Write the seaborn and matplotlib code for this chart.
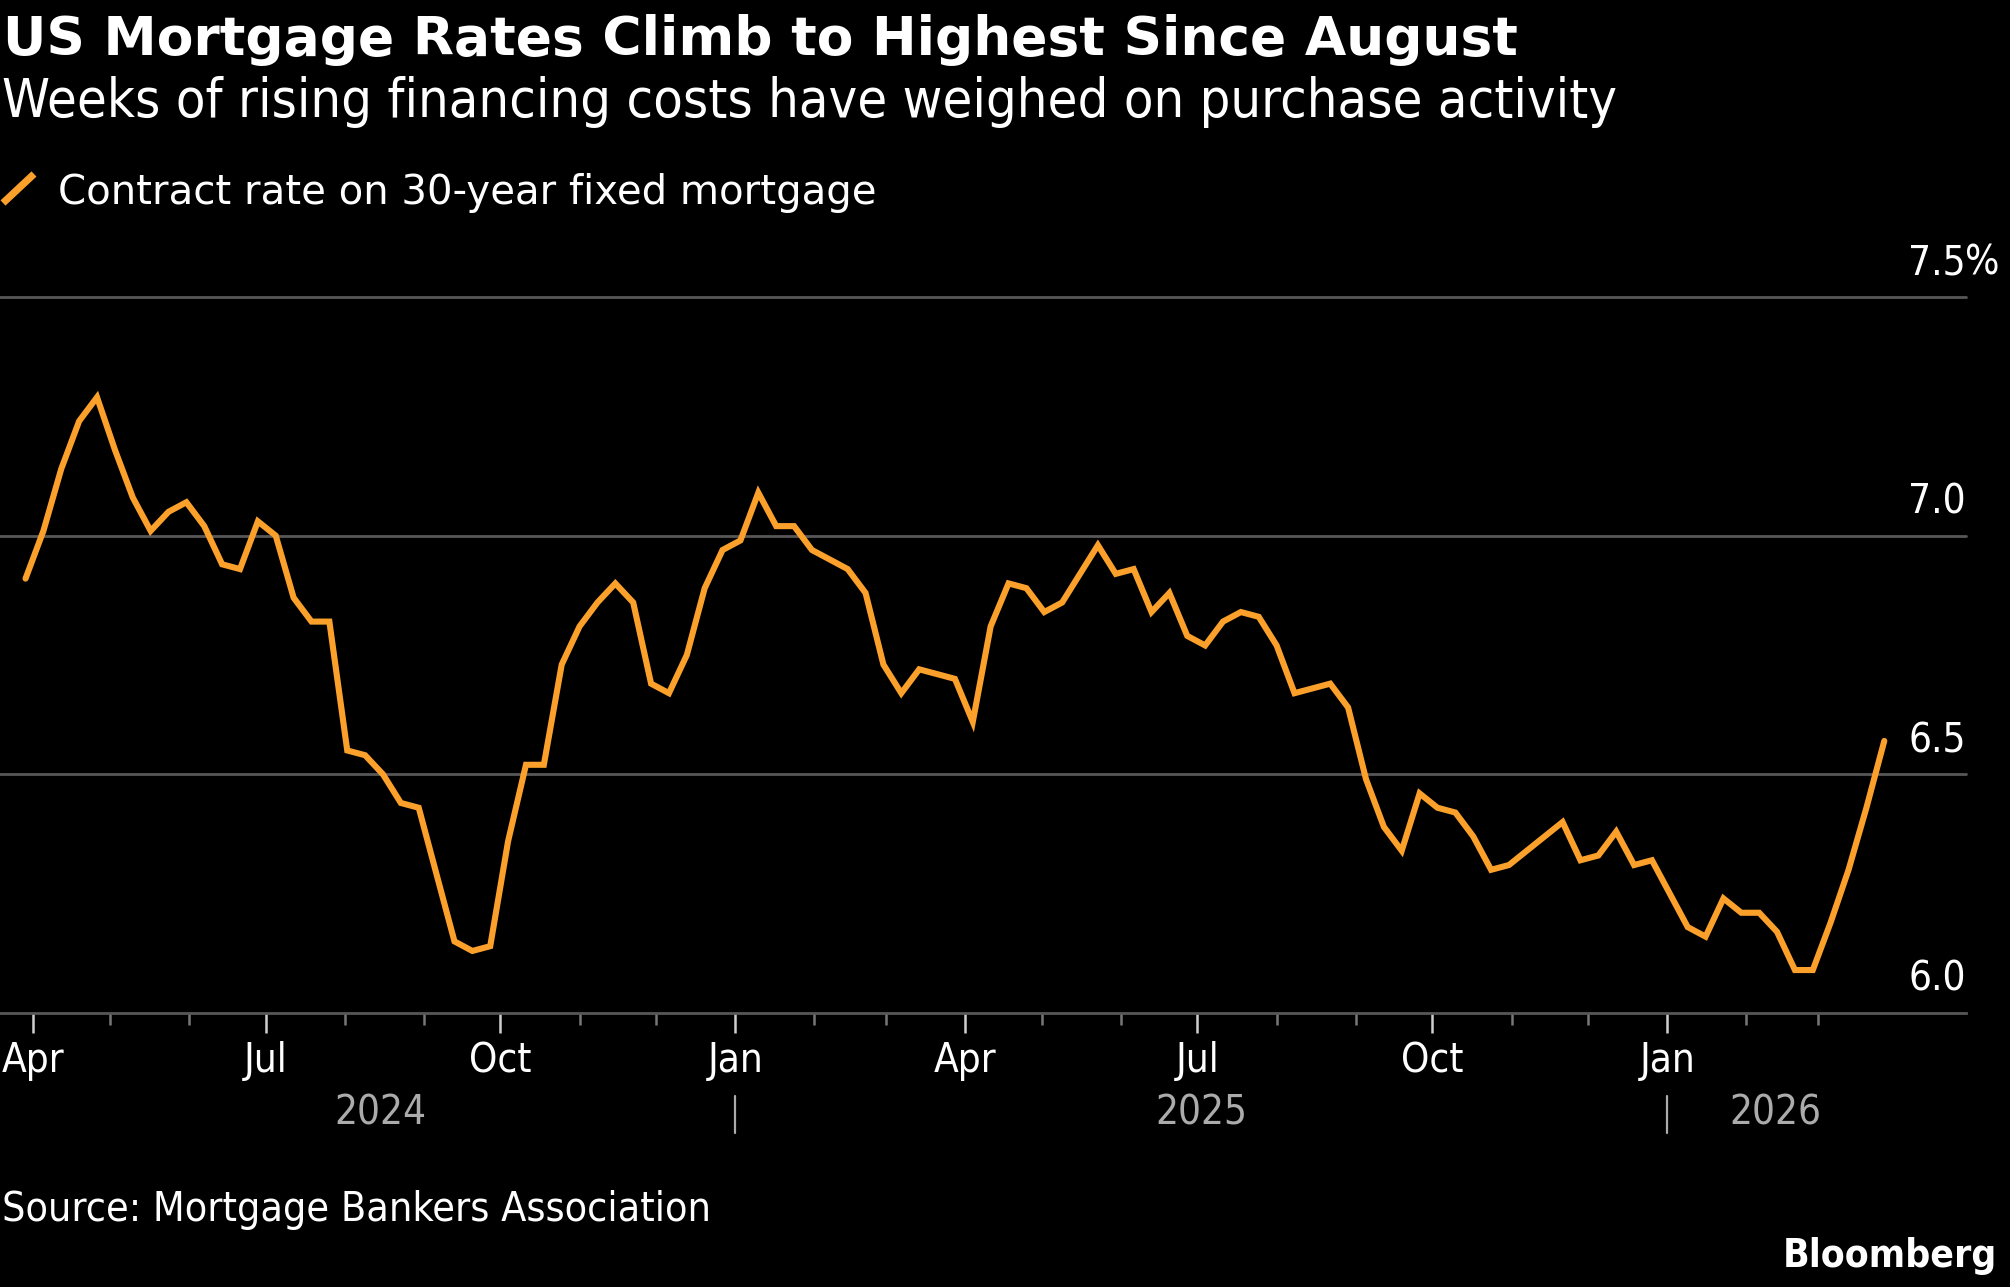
import pandas as pd
import matplotlib
matplotlib.use("Agg")
import matplotlib.pyplot as plt
import matplotlib.dates as mdates
import matplotlib.ticker as mticker
import matplotlib.transforms as mtrans
from matplotlib.lines import Line2D
import seaborn as sns

# MBA weekly contract rate on 30-year fixed mortgage (%)
first_week = "2024-03-29"
rates = [
    6.91, 7.01, 7.14, 7.24, 7.29, 7.18, 7.08, 7.01, 7.05, 7.07,
    7.02, 6.94, 6.93, 7.03, 7.00, 6.87, 6.82, 6.82, 6.55, 6.54,
    6.50, 6.44, 6.43, 6.29, 6.15, 6.13, 6.14, 6.36, 6.52, 6.52,
    6.73, 6.81, 6.86, 6.90, 6.86, 6.69, 6.67, 6.75, 6.89, 6.97,
    6.99, 7.09, 7.02, 7.02, 6.97, 6.95, 6.93, 6.88, 6.73, 6.67,
    6.72, 6.71, 6.70, 6.61, 6.81, 6.90, 6.89, 6.84, 6.86, 6.92,
    6.98, 6.92, 6.93, 6.84, 6.88, 6.79, 6.77, 6.82, 6.84, 6.83,
    6.77, 6.67, 6.68, 6.69, 6.64, 6.49, 6.39, 6.34, 6.46, 6.43,
    6.42, 6.37, 6.30, 6.31, 6.34, 6.37, 6.40, 6.32, 6.33, 6.38,
    6.31, 6.32, 6.25, 6.18, 6.16, 6.24, 6.21, 6.21, 6.17, 6.09,
    6.09, 6.19, 6.30, 6.43, 6.57,
]
y_ticks = [6.0, 6.5, 7.0, 7.5]
years = ["2024", "2025", "2026"]
year_breaks = ["2025-01-01", "2026-01-01"]

title = "US Mortgage Rates Climb to Highest Since August"
subtitle = "Weeks of rising financing costs have weighed on purchase activity"
series_name = "Contract rate on 30-year fixed mortgage"
source = "Source: Mortgage Bankers Association"

ORANGE = "#FBA12B"
GRID = "#575757"
W, H = 2010, 1287

sns.set_theme(style="dark")
plt.rcParams["font.family"] = ["DejaVu Sans Condensed", "DejaVu Sans"]
plt.rcParams["font.stretch"] = "condensed"

df = pd.DataFrame({
    "date": pd.date_range(first_week, periods=len(rates), freq="7D"),
    "rate": rates,
})

fig = plt.figure(figsize=(W / 100, H / 100), dpi=100, facecolor="black")
ax = fig.add_axes([0, 1 - 1013 / H, 1966 / W, (1013 - 297) / H])
ax.set_facecolor("black")

sns.lineplot(data=df, x="date", y="rate", ax=ax, color=ORANGE,
             linewidth=4.4, solid_joinstyle="miter", zorder=3)

ax.set_xlim(pd.Timestamp("2024-03-19"), pd.Timestamp("2026-04-28"))
ax.set_ylim(y_ticks[0], y_ticks[-1])
ax.set_xlabel("")
ax.set_ylabel("")
ax.grid(False)
for s in ["top", "left", "right"]:
    ax.spines[s].set_visible(False)
ax.spines["bottom"].set_color(GRID)
ax.spines["bottom"].set_linewidth(2)

# horizontal gridlines (7.5 sits on the top edge so no clipping)
for v in y_ticks[1:]:
    ax.axhline(v, color=GRID, linewidth=2, clip_on=False, zorder=1)

# right-side value labels sitting above the gridlines
ax.set_yticks([])
for v in y_ticks:
    ax.annotate(f"{v:.1f}", xy=(1, v), xycoords=("axes fraction", "data"),
                xytext=(0, 16), textcoords="offset points",
                ha="right", va="baseline", color="white", fontsize=29)
ax.annotate("%", xy=(1, y_ticks[-1]), xycoords=("axes fraction", "data"),
            xytext=(-1, 16), textcoords="offset points",
            ha="left", va="baseline", color="white", fontsize=29)

# month ticks, only over the span of the data
first, last = df["date"].iloc[0], df["date"].iloc[-1]
months = pd.date_range(first, last, freq="MS")
quarters = [m for m in months if m.month in (1, 4, 7, 10)]
ax.xaxis.set_major_locator(mticker.FixedLocator(mdates.date2num(quarters)))
ax.xaxis.set_major_formatter(mdates.DateFormatter("%b"))
ax.xaxis.set_minor_locator(mticker.FixedLocator(mdates.date2num(months)))
ax.tick_params(axis="x", which="major", direction="out", length=14.4,
               width=1.8, color="#cfcfcf", labelcolor="white",
               labelsize=29, pad=6, bottom=True)
ax.tick_params(axis="x", which="minor", direction="out", length=8.6,
               width=1.8, color="#777777", bottom=True)

# year labels centred under each year's span, with separators
spans = [first] + [pd.Timestamp(b) for b in year_breaks] + [last]
for yr, a, b in zip(years, spans[:-1], spans[1:]):
    mid = a + (b - a) / 2
    ax.annotate(yr, xy=(mid, 0), xycoords=("data", "axes fraction"),
                xytext=(0, -80.5), textcoords="offset points",
                ha="center", va="baseline", color="#ababab", fontsize=29)
trans = mtrans.blended_transform_factory(ax.transData, ax.transAxes)
for b in year_breaks:
    d = mdates.date2num(pd.Timestamp(b))
    ax.plot([d, d], [-83 / 716, -120 / 716], transform=trans, clip_on=False,
            color="#ababab", linewidth=1.6)

# header
fig.text(3 / W, 1 - 55 / H, title, color="white", fontsize=38.5,
         fontweight="bold", fontstretch="normal", family="DejaVu Sans",
         va="baseline", ha="left")
fig.text(2 / W, 1 - 117 / H, subtitle, color="white", fontsize=38.9,
         va="baseline", ha="left")
fig.add_artist(Line2D([3 / W, 34 / W], [1 - 203 / H, 1 - 174 / H],
                      color=ORANGE, linewidth=5.2, solid_capstyle="butt"))
fig.text(58 / W, 1 - 204 / H, series_name, color="white", fontsize=29,
         fontstretch="normal", family="DejaVu Sans",
         va="baseline", ha="left")

# footer
fig.text(2 / W, 1 - 1221 / H, source, color="white", fontsize=29.5,
         va="baseline", ha="left")
fig.text(1997 / W, 1 - 1267 / H, "Bloomberg", color="white", fontsize=28,
         fontweight="bold", va="baseline", ha="right")

fig.savefig("out.png", dpi=100, facecolor="black")
